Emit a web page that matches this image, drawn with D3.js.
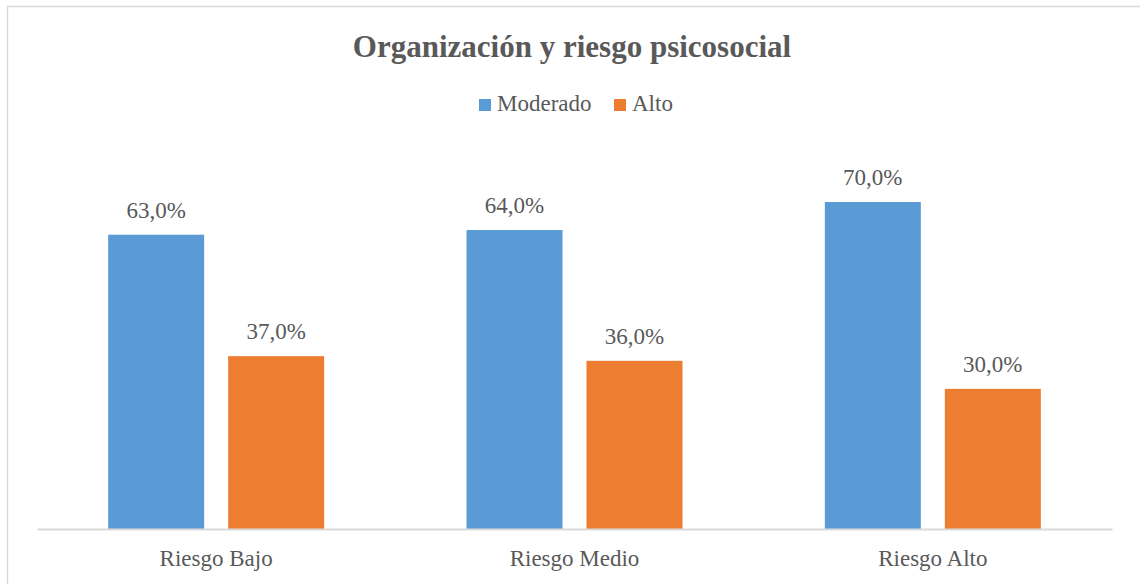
<!DOCTYPE html>
<html>
<head>
<meta charset="utf-8">
<script src="https://cdn.jsdelivr.net/npm/d3@7"></script>
<style>
  body { margin: 0; background: #fff; }
  svg text { font-family: "Liberation Serif", "Times New Roman", serif; fill: #595959; }
</style>
</head>
<body>
<svg id="chart" width="1140" height="584"></svg>
<script>
const categories = ['Riesgo Bajo', 'Riesgo Medio', 'Riesgo Alto'];
const seriesNames = ['Moderado', 'Alto'];
const moderado = [0.63, 0.64, 0.70];
const alto = [0.37, 0.36, 0.30];
const colors = ['#5B9BD5', '#ED7D31'];
const title = 'Organización y riesgo psicosocial';

const values = [moderado, alto];
const rows = categories.map((c, i) => ({
  cat: c,
  vals: seriesNames.map((s, j) => ({ key: s, value: values[j][i], color: colors[j] }))
}));

const svg = d3.select('#chart');
const plot = { left: 37, right: 1112, bottom: 529 };

// chart border (runs off the right and bottom edges)
svg.append('rect')
  .attr('x', 7.5).attr('y', 6.5)
  .attr('width', 1200).attr('height', 700)
  .attr('fill', 'none')
  .attr('stroke', '#d9d9d9')
  .attr('stroke-width', 1.5);

svg.append('text')
  .attr('x', 572).attr('y', 57)
  .attr('text-anchor', 'middle')
  .style('font-size', '31px')
  .style('font-weight', 'bold')
  .text(title);

// legend
const legendX = [479, 614];
const legend = svg.selectAll('.legend')
  .data(seriesNames)
  .enter().append('g')
  .attr('transform', (d, i) => `translate(${legendX[i]},99)`);
legend.append('rect')
  .attr('width', 12).attr('height', 12)
  .attr('fill', (d, i) => colors[i]);
legend.append('text')
  .attr('x', 18).attr('y', 12)
  .style('font-size', '23px')
  .text(d => d);

const x0 = d3.scaleBand()
  .domain(categories)
  .range([plot.left, plot.right]);

const groupW = 216;
const x1 = d3.scaleBand()
  .domain(seriesNames)
  .range([(x0.bandwidth() - groupW) / 2, (x0.bandwidth() + groupW) / 2])
  .paddingInner(0.2);

const y = d3.scaleLinear()
  .domain([0, 0.8])
  .range([plot.bottom, plot.bottom - 373.7]);

const fmt = v => d3.format('.1f')(v * 100).replace('.', ',') + '%';

const groups = svg.selectAll('.grp')
  .data(rows)
  .enter().append('g')
  .attr('transform', d => `translate(${x0(d.cat)},0)`);

groups.selectAll('rect')
  .data(d => d.vals)
  .enter().append('rect')
  .attr('x', d => x1(d.key))
  .attr('y', d => y(d.value))
  .attr('width', x1.bandwidth())
  .attr('height', d => y(0) - y(d.value))
  .attr('fill', d => d.color);

groups.selectAll('.lbl')
  .data(d => d.vals)
  .enter().append('text')
  .attr('x', d => x1(d.key) + x1.bandwidth() / 2)
  .attr('y', d => y(d.value) - 17)
  .attr('text-anchor', 'middle')
  .style('font-size', '23px')
  .text(d => fmt(d.value));

// x axis
const xAxis = svg.append('g')
  .attr('transform', `translate(0,${plot.bottom})`)
  .call(d3.axisBottom(x0).tickSize(0).tickPadding(0));
xAxis.select('.domain').attr('stroke', '#d9d9d9').attr('stroke-width', 2);
xAxis.selectAll('text')
  .attr('dy', null)
  .attr('y', 37)
  .style('font-size', '23px')
  .style('font-family', '"Liberation Serif", "Times New Roman", serif')
  .attr('fill', '#595959');
</script>
</body>
</html>
